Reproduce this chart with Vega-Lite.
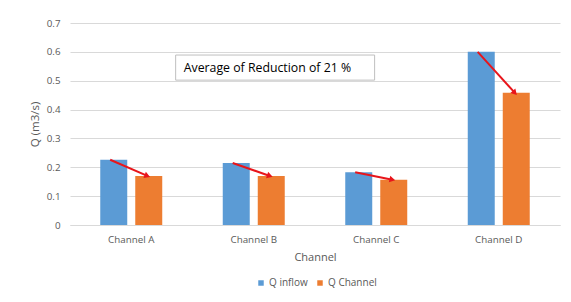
{
  "$schema": "https://vega.github.io/schema/vega-lite/v6.json",
  "width": 490,
  "height": 202,
  "autosize": {"type": "none"},
  "padding": {"left": 70, "top": 23, "right": 11, "bottom": 77},
  "background": "white",
  "config": {
    "font": "Open Sans",
    "view": {"stroke": null},
    "axis": {
      "labelColor": "#595959",
      "titleColor": "#595959",
      "labelFontSize": 9.8,
      "titleFontSize": 11,
      "titleFontWeight": "normal",
      "ticks": false,
      "gridColor": "#D9D9D9",
      "domainColor": "#D9D9D9",
      "labelOverlap": false
    }
  },
  "datasets": {
    "flows": [
      {"Channel": "Channel A", "Q inflow": 0.226, "Q Channel": 0.17},
      {"Channel": "Channel B", "Q inflow": 0.215, "Q Channel": 0.17},
      {"Channel": "Channel C", "Q inflow": 0.183, "Q Channel": 0.157},
      {"Channel": "Channel D", "Q inflow": 0.6, "Q Channel": 0.458}
    ],
    "note": [
      {"Channel": "Channel B", "top": 0.589, "bottom": 0.502, "mid": 0.5455, "label": "Average of Reduction of 21 %"}
    ]
  },
  "layer": [
    {
      "data": {"name": "flows"},
      "transform": [{"fold": ["Q inflow", "Q Channel"], "as": ["Series", "Q"]}],
      "mark": {"type": "bar"},
      "encoding": {
        "x": {
          "field": "Channel", "type": "nominal", "title": "Channel",
          "scale": {"paddingInner": 0.494, "paddingOuter": 0.247},
          "axis": {"labelAngle": 0, "labelPadding": 9, "titlePadding": 8, "domain": true}
        },
        "xOffset": {
          "field": "Series", "sort": ["Q inflow", "Q Channel"],
          "scale": {"paddingInner": 0.229, "paddingOuter": 0}
        },
        "y": {
          "field": "Q", "type": "quantitative", "title": "Q (m3/s)",
          "scale": {"domain": [0, 0.7]},
          "axis": {"values": [0, 0.1, 0.2, 0.3, 0.4, 0.5, 0.6, 0.7], "format": ".1~f", "domain": false, "labelPadding": 10, "titlePadding": 6, "titleFontSize": 11.5}
        },
        "color": {
          "field": "Series", "type": "nominal", "sort": ["Q inflow", "Q Channel"],
          "scale": {"domain": ["Q inflow", "Q Channel"], "range": ["#5B9BD5", "#ED7D31"]},
          "legend": {"title": null, "orient": "none", "legendX": 186, "legendY": 255, "direction": "horizontal", "symbolType": "square", "symbolSize": 30, "symbolStrokeWidth": 0, "labelFontSize": 10, "labelColor": "#595959", "labelOffset": 3, "columnPadding": 7, "padding": 0}
        }
      }
    },
    {
      "data": {"name": "flows"},
      "mark": {"type": "rule", "color": "#E8151B", "strokeWidth": 2},
      "encoding": {
        "x": {"field": "Channel", "type": "nominal", "bandPosition": 0.16, "title": "Channel",
          "axis": {"labelAngle": 0, "labelPadding": 9, "titlePadding": 8, "domain": true}},
        "x2": {"field": "Channel", "bandPosition": 0.76},
        "y": {"field": "Q inflow", "type": "quantitative", "title": "Q (m3/s)",
          "axis": {"values": [0, 0.1, 0.2, 0.3, 0.4, 0.5, 0.6, 0.7], "format": ".1~f", "domain": false, "labelPadding": 10, "titlePadding": 6, "titleFontSize": 11.5}},
        "y2": {"field": "Q Channel"}
      }
    },
    {
      "data": {"name": "flows"},
      "transform": [{"calculate": "datum['Q inflow'] - datum['Q Channel']", "as": "drop"}],
      "mark": {"type": "point", "shape": "triangle-right", "filled": true, "color": "#E8151B", "size": 45, "opacity": 1},
      "encoding": {
        "x": {"field": "Channel", "type": "nominal", "bandPosition": 0.76, "title": "Channel",
          "axis": {"labelAngle": 0, "labelPadding": 9, "titlePadding": 8, "domain": true}},
        "y": {"field": "Q Channel", "type": "quantitative", "title": "Q (m3/s)",
          "axis": {"values": [0, 0.1, 0.2, 0.3, 0.4, 0.5, 0.6, 0.7], "format": ".1~f", "domain": false, "labelPadding": 10, "titlePadding": 6, "titleFontSize": 11.5}},
        "angle": {"field": "drop", "type": "quantitative", "scale": {"domain": [0.026, 0.142], "range": [12, 47]}, "legend": null}
      }
    },
    {
      "data": {"name": "note"},
      "mark": {"type": "rect", "fill": "white", "stroke": "#BFBFBF", "strokeWidth": 1},
      "encoding": {
        "x": {"field": "Channel", "type": "nominal", "bandPosition": -0.76, "title": "Channel",
          "axis": {"labelAngle": 0, "labelPadding": 9, "titlePadding": 8, "domain": true}},
        "x2": {"field": "Channel", "bandPosition": 2.45},
        "y": {"field": "top", "type": "quantitative", "title": "Q (m3/s)",
          "axis": {"values": [0, 0.1, 0.2, 0.3, 0.4, 0.5, 0.6, 0.7], "format": ".1~f", "domain": false, "labelPadding": 10, "titlePadding": 6, "titleFontSize": 11.5}},
        "y2": {"field": "bottom"}
      }
    },
    {
      "data": {"name": "note"},
      "mark": {"type": "text", "align": "left", "baseline": "middle", "fontSize": 12.3, "color": "#000000"},
      "encoding": {
        "x": {"field": "Channel", "type": "nominal", "bandPosition": -0.63, "title": "Channel",
          "axis": {"labelAngle": 0, "labelPadding": 9, "titlePadding": 8, "domain": true}},
        "y": {"field": "mid", "type": "quantitative", "title": "Q (m3/s)",
          "axis": {"values": [0, 0.1, 0.2, 0.3, 0.4, 0.5, 0.6, 0.7], "format": ".1~f", "domain": false, "labelPadding": 10, "titlePadding": 6, "titleFontSize": 11.5}},
        "text": {"field": "label"}
      }
    }
  ]
}
